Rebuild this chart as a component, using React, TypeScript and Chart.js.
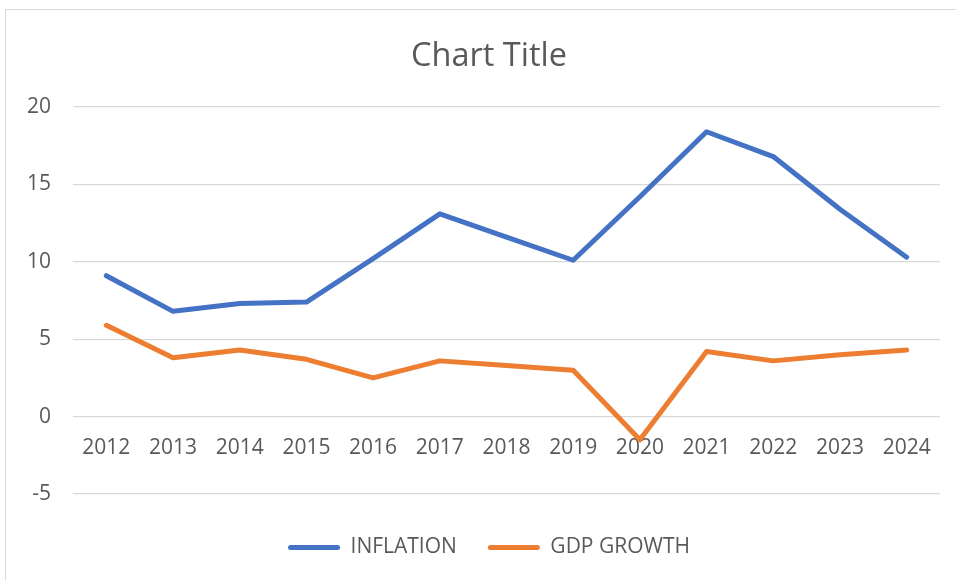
import React, { useEffect, useRef } from "react";
import { Chart, registerables } from "chart.js";

Chart.register(...registerables);

const years = ["2012", "2013", "2014", "2015", "2016", "2017", "2018", "2019", "2020", "2021", "2022", "2023", "2024"];
const inflation = [9.1, 6.8, 7.3, 7.4, 10.2, 13.1, 11.6, 10.1, 14.2, 18.4, 16.8, 13.4, 10.3];
const gdpGrowth = [5.9, 3.8, 4.3, 3.7, 2.5, 3.6, 3.3, 3.0, -1.5, 4.2, 3.6, 4.0, 4.3];
const seriesNames = ["INFLATION", "GDP GROWTH"];
const chartTitle = "Chart Title";

const BLUE = "#4472C4";
const ORANGE = "#ED7D31";
const TEXT = "#595959";
const GRID = "#d9d9d9";
const FONT = "'Open Sans', 'Noto Sans', sans-serif";

export default function App() {
  const ref = useRef<HTMLCanvasElement | null>(null);

  useEffect(() => {
    if (!ref.current) return;
    const chart = new Chart(ref.current, {
      type: "line",
      data: {
        labels: years,
        datasets: [
          {
            label: seriesNames[0],
            data: inflation,
            borderColor: BLUE,
            backgroundColor: BLUE,
            borderWidth: 5,
            pointRadius: 0,
            tension: 0,
            borderCapStyle: "round",
            borderJoinStyle: "round",
          },
          {
            label: seriesNames[1],
            data: gdpGrowth,
            borderColor: ORANGE,
            backgroundColor: ORANGE,
            borderWidth: 5,
            pointRadius: 0,
            tension: 0,
            borderCapStyle: "round",
            borderJoinStyle: "round",
          },
        ],
      },
      options: {
        responsive: false,
        animation: false,
        layout: { padding: { left: 0, top: 0, right: 0, bottom: 12 } },
        plugins: {
          title: {
            display: true,
            text: chartTitle,
            color: TEXT,
            font: { family: FONT, size: 32.5, weight: "normal", lineHeight: 1.2 },
            padding: { top: 27, bottom: 31 },
          },
          legend: {
            display: true,
            position: "bottom",
            title: { display: true, text: " ", padding: 0, font: { size: 12, lineHeight: 1 } },
            labels: {
              color: TEXT,
              font: { family: FONT, size: 21 },
              boxWidth: 52,
              boxHeight: 5,
              useBorderRadius: true,
              borderRadius: 2.5,
              padding: 31,
              generateLabels: (c: any) =>
                (Chart.defaults.plugins.legend.labels.generateLabels as any)(c).map((l: any) => ({
                  ...l,
                  lineWidth: 0,
                })),
            },
          },
          tooltip: { enabled: false },
        },
        scales: {
          x: {
            type: "category",
            position: { y: 0 } as any,
            offset: true,
            grid: { display: false, drawTicks: false },
            border: { display: false },
            ticks: {
              color: TEXT,
              font: { family: FONT, size: 21 },
              padding: 19,
              maxRotation: 0,
              autoSkip: false,
            },
          },
          y: {
            min: -5,
            max: 20,
            grid: { color: GRID, lineWidth: 1.2, drawTicks: false },
            border: { display: false },
            ticks: {
              stepSize: 5,
              color: TEXT,
              font: { family: FONT, size: 21 },
              padding: 22,
            },
            afterFit: (s: any) => {
              s.width = 67;
            },
          },
          yRight: {
            position: "right",
            min: -5,
            max: 20,
            grid: { display: false, drawTicks: false },
            border: { display: false },
            ticks: { display: false },
            afterFit: (s: any) => {
              s.width = 32;
            },
          },
        },
      },
    });
    return () => chart.destroy();
  }, []);

  return (
    <div
      style={{
        position: "fixed",
        left: 5,
        top: 9,
        width: 951,
        height: 571,
        overflow: "hidden",
        borderLeft: "1px solid #d9d9d9",
        borderTop: "1px solid #d9d9d9",
        background: "#fff",
      }}
    >
      <canvas ref={ref} width={966} height={570} style={{ display: "block" }} />
    </div>
  );
}
